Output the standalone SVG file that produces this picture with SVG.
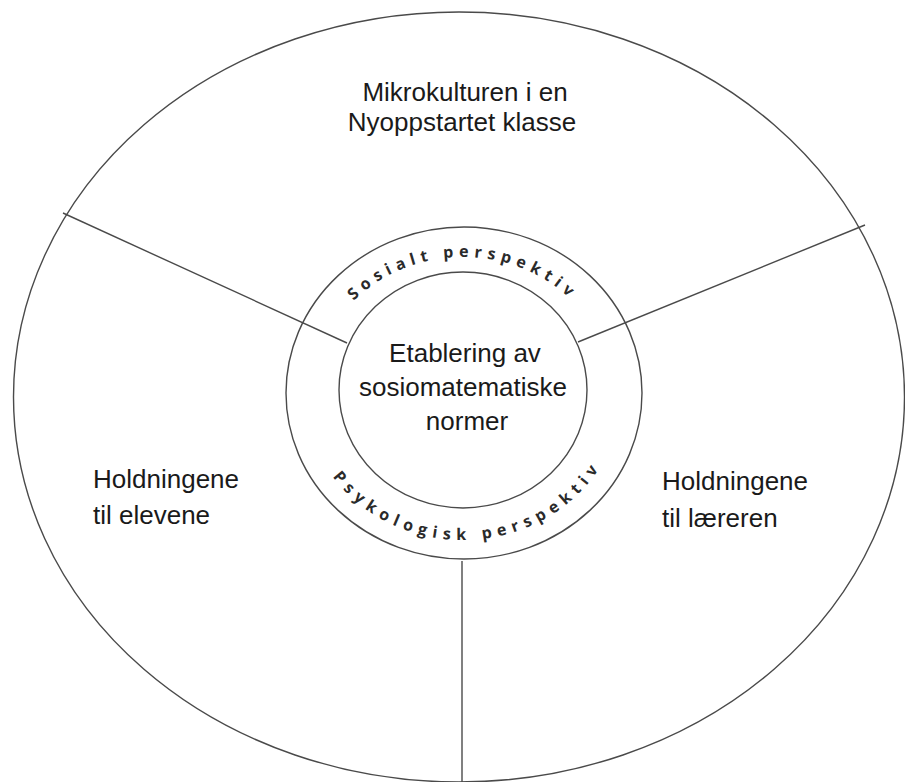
<svg xmlns="http://www.w3.org/2000/svg" width="905" height="782" viewBox="0 0 905 782">
<style>
.shape{fill:none;stroke:#4a4a4a;stroke-width:1.4}
.line{stroke:#4a4a4a;stroke-width:1.4;fill:none}
.lbl{font-family:"Liberation Sans",Arial,sans-serif;font-size:26px;fill:#1a1a1a}
.mid{text-anchor:middle}
.arc{font-family:"Open Sans","Liberation Sans",sans-serif;font-size:16px;font-weight:700;fill:#2a2a2a}
</style>
<defs>
<path id="topArc" d="M 315 392 A 148 135 0 0 1 611 392"/>
<path id="botArc" d="M 304 392 A 159 148 0 0 0 622 392"/>
</defs>
<rect width="905" height="782" fill="#ffffff"/>
<g id="outer">
<ellipse class="shape" cx="459" cy="397" rx="445.5" ry="385"/>
</g>
<g id="connectors">
<line class="line" x1="63" y1="213" x2="347" y2="343"/>
<line class="line" x1="865" y1="225" x2="578" y2="342"/>
<line class="line" x1="462" y1="561" x2="462" y2="782"/>
</g>
<g id="ring">
<ellipse class="shape" cx="464" cy="393" rx="178" ry="166" fill="#ffffff"/>
<text class="arc" letter-spacing="5.5"><textPath href="#topArc" startOffset="50%" text-anchor="middle">Sosialt perspektiv</textPath></text>
<text class="arc" letter-spacing="6"><textPath href="#botArc" startOffset="51.5%" text-anchor="middle">Psykologisk perspektiv</textPath></text>
</g>
<g id="center">
<ellipse class="shape" cx="463" cy="390" rx="124" ry="118" fill="#ffffff"/>
<text class="lbl mid" x="465" y="362">Etablering av</text>
<text class="lbl mid" x="463" y="396">sosiomatematiske</text>
<text class="lbl mid" x="467" y="430">normer</text>
</g>
<g id="top-region">
<text class="lbl mid" x="465" y="101">Mikrokulturen i en</text>
<text class="lbl mid" x="462" y="131">Nyoppstartet klasse</text>
</g>
<g id="left-region">
<text class="lbl" x="93" y="488">Holdningene</text>
<text class="lbl" x="93" y="524">til elevene</text>
</g>
<g id="right-region">
<text class="lbl" x="662" y="490">Holdningene</text>
<text class="lbl" x="662" y="527">til læreren</text>
</g>
</svg>
